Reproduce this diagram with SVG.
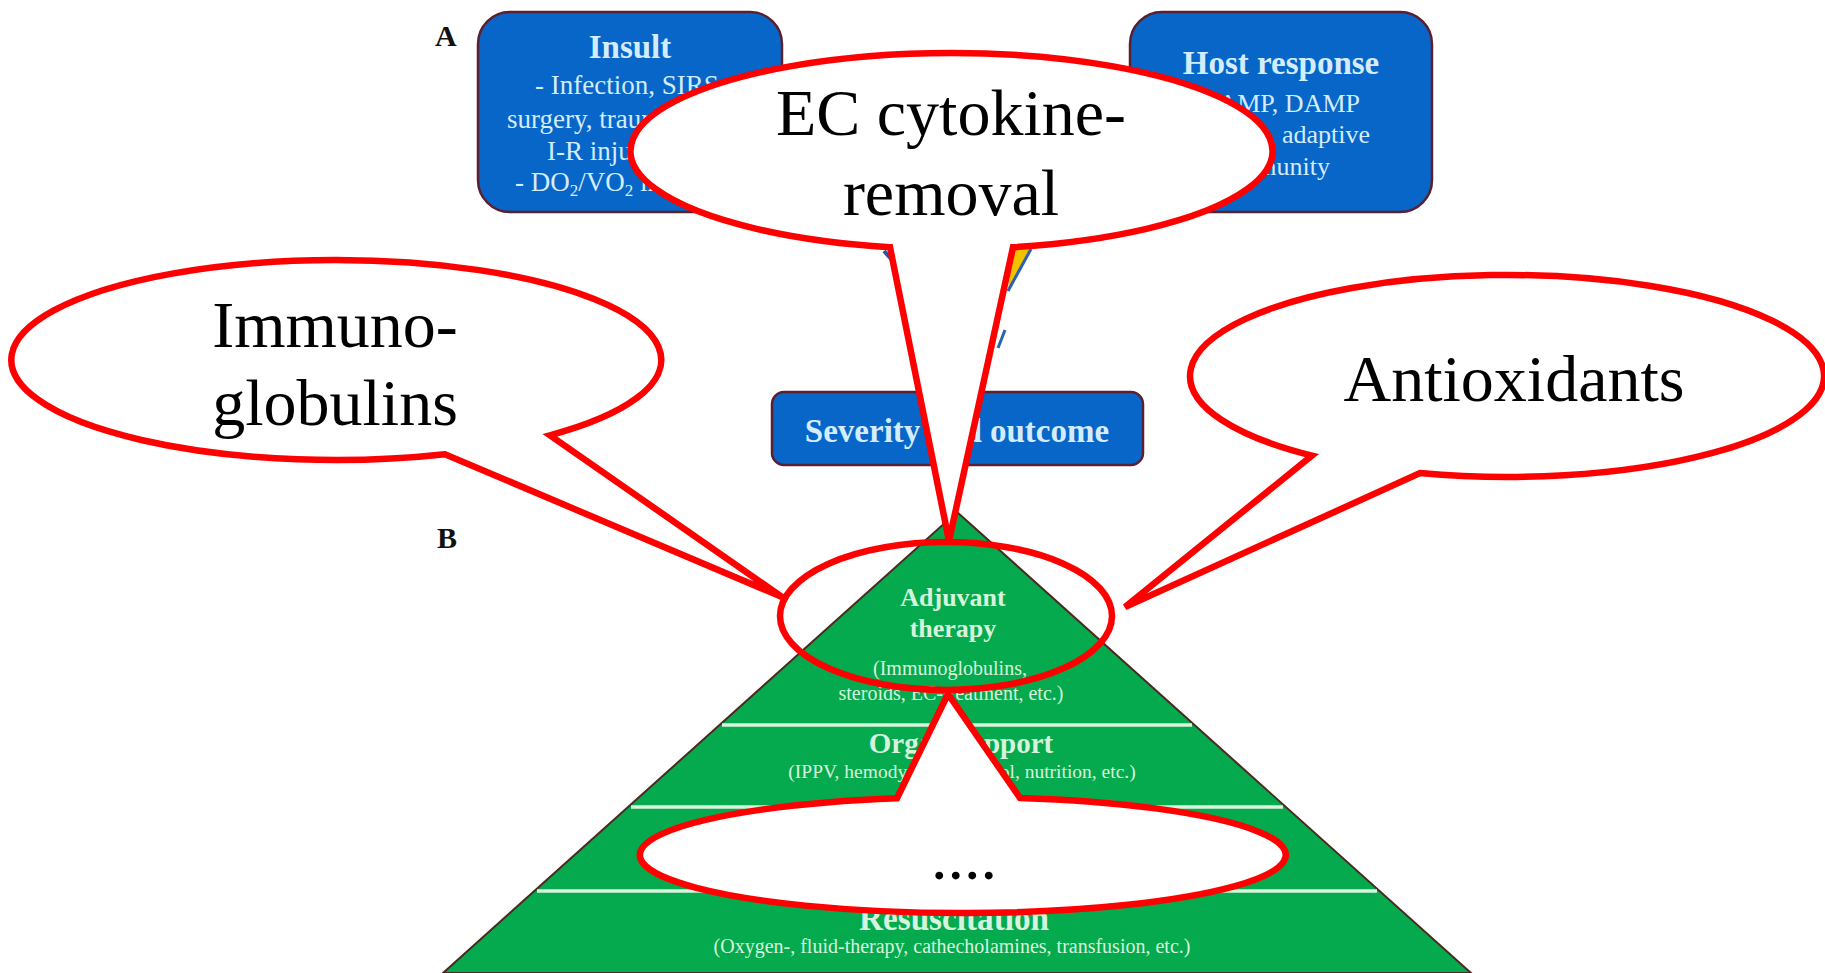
<svg xmlns="http://www.w3.org/2000/svg" width="1825" height="973" viewBox="0 0 1825 973">
<style>
.box{fill:#0866c8;stroke:#5a2030;stroke-width:2.5}
.bt{font-family:"Liberation Serif","Times New Roman",serif;fill:#d4ecff}
.b{font-weight:bold}
.pt{font-family:"Liberation Serif","Times New Roman",serif;fill:#d6f4dc;text-anchor:middle}
.band{stroke:#d8f4dc;stroke-width:3.5}
.call{fill:#ffffff;stroke:#ff0000;stroke-width:6.5;stroke-linejoin:miter}
.ct{font-family:"Liberation Serif","Times New Roman",serif;font-size:66px;fill:#000;text-anchor:middle}
.lab{font-family:"Liberation Serif","Times New Roman",serif;font-weight:bold;font-size:30px;fill:#111}
</style>
<rect width="1825" height="973" fill="#ffffff"/>

<text class="lab" x="435" y="46">A</text>
<text class="lab" x="437" y="548">B</text>

<g id="insult">
<rect class="box" x="478" y="12" width="304" height="200" rx="32"/>
<text class="bt b" x="630" y="58" font-size="33" text-anchor="middle">Insult</text>
<text class="bt" x="535" y="94" font-size="27">- Infection, SIRS,</text>
<text class="bt" x="507" y="128" font-size="27">surgery, trauma,</text>
<text class="bt" x="547" y="160" font-size="27">I-R injury,</text>
<text class="bt" x="515" y="191" font-size="27">- DO<tspan font-size="17" dy="5">2</tspan><tspan dy="-5">/VO</tspan><tspan font-size="17" dy="5">2</tspan><tspan dy="-5"> imbalance</tspan></text>
</g>

<g id="host">
<rect class="box" x="1130" y="12" width="302" height="200" rx="32"/>
<text class="bt b" x="1281" y="74" font-size="33" text-anchor="middle">Host response</text>
<text class="bt" x="1360" y="112" font-size="26" text-anchor="end">- PAMP, DAMP</text>
<text class="bt" x="1370" y="143" font-size="26" text-anchor="end">- innate, adaptive</text>
<text class="bt" x="1330" y="175" font-size="26" text-anchor="end">immunity</text>
</g>

<g id="severity">
<rect class="box" x="772" y="392" width="371" height="73" rx="12"/>
<text class="bt b" x="957" y="442" font-size="33" text-anchor="middle">Severity and outcome</text>
</g>

<g id="pyramid">
<polygon points="957,512 1471,973 443,973" fill="#06aa4e" stroke="#4a2a20" stroke-width="2"/>
<line class="band" x1="722" y1="725" x2="1192" y2="725"/>
<line class="band" x1="631" y1="807" x2="1283" y2="807"/>
<line class="band" x1="537" y1="891" x2="1377" y2="891"/>
<text class="pt b" x="953" y="606" font-size="26">Adjuvant</text>
<text class="pt b" x="953" y="637" font-size="26">therapy</text>
<text class="pt" x="950" y="675" font-size="20">(Immunoglobulins,</text>
<text class="pt" x="951" y="700" font-size="20">steroids, EC-treatment, etc.)</text>
<text class="pt b" x="961" y="753" font-size="29">Organ support</text>
<text class="pt" x="962" y="778" font-size="19.5">(IPPV, hemodynamic control, nutrition, etc.)</text>
<text class="pt b" x="954" y="930" font-size="36" textLength="190" lengthAdjust="spacingAndGlyphs">Resuscitation</text>
<text class="pt" x="952" y="953" font-size="20">(Oxygen-, fluid-therapy, cathecholamines, transfusion, etc.)</text>
</g>

<g id="connectors">
<line x1="884" y1="251" x2="928" y2="300" stroke="#1f5aa0" stroke-width="4"/>
<polygon points="1013,249 1031,249 1008,291" fill="#f2c200"/>
<line x1="1031" y1="249" x2="1008" y2="291" stroke="#2a62b0" stroke-width="3"/>
<line x1="1005" y1="330" x2="998" y2="348" stroke="#2a62b0" stroke-width="3"/>
</g>

<g id="callout-ec">
<path class="call" d="M 890 247.2 A 321 98 0 1 1 1013 247.2 L 949 541 Z"/>
<text class="ct" x="951" y="135">EC cytokine-</text>
<text class="ct" x="951" y="215">removal</text>
</g>

<g id="callout-immuno">
<path class="call" d="M 550 435.3 A 325 100 0 1 0 445 454.2 L 782 597 Z"/>
<text class="ct" x="335" y="347">Immuno-</text>
<text class="ct" x="335" y="425">globulins</text>
</g>

<g id="callout-antiox">
<path class="call" d="M 1420 473.1 A 317 101 0 1 0 1312 455.6 L 1125 607 Z"/>
<text class="ct" x="1514" y="401">Antioxidants</text>
</g>

<g id="callout-more">
<path class="call" d="M 897 798.2 A 323 58 0 1 0 1020 797.9 L 948 694 Z"/>
<text class="ct" x="964" y="879">....</text>
</g>

<g id="highlight">
<ellipse cx="946" cy="616" rx="166" ry="74" fill="none" stroke="#ff0000" stroke-width="6.5"/>
</g>
</svg>
